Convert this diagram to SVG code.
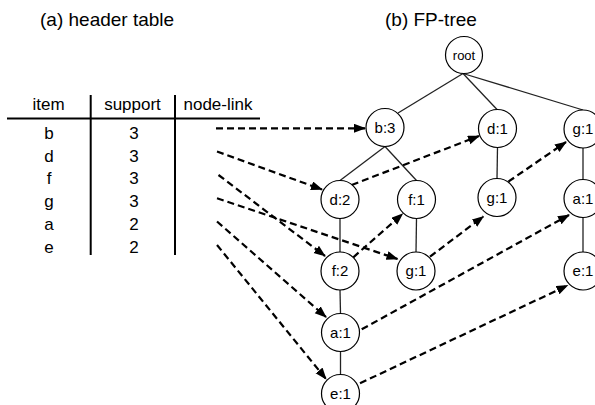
<svg xmlns="http://www.w3.org/2000/svg" width="595" height="405" viewBox="0 0 595 405">
  <defs>
    <marker id="arrow" markerUnits="userSpaceOnUse" markerWidth="13" markerHeight="10" refX="11" refY="4.5" orient="auto">
      <path d="M0,0 L12,4.5 L0,9 z" fill="#000"/>
    </marker>
  </defs>
  <style>
    text { font-family: "Liberation Sans", Arial, sans-serif; fill: #000; }
    .title { font-size: 19px; }
    .th { font-size: 17px; text-anchor: middle; }
    .td { font-size: 17px; text-anchor: middle; }
    .rule { stroke: #000; stroke-width: 2; fill: none; }
    .node circle { fill: #fff; stroke: #000; stroke-width: 1.2; }
    .node text { font-size: 15px; text-anchor: middle; }
    .edge { stroke: #222; stroke-width: 1.3; fill: none; }
    .link { stroke: #000; stroke-width: 2.2; stroke-dasharray: 7 4; fill: none; marker-end: url(#arrow); }
  </style>
  <rect width="595" height="405" fill="#fff"/>

  <!-- titles -->
  <text class="title" x="40" y="26">(a) header table</text>
  <text class="title" x="385" y="26">(b) FP-tree</text>

  <!-- header table -->
  <g id="header-table">
    <text class="th" x="48.5" y="110">item</text>
    <text class="th" x="132.5" y="110">support</text>
    <text class="th" x="218" y="110">node-link</text>
    <line class="rule" x1="7" y1="118.5" x2="260" y2="118.5"/>
    <line class="rule" x1="90.7" y1="95" x2="90.7" y2="255"/>
    <line class="rule" x1="175" y1="95" x2="175" y2="255"/>
    <text class="td" x="49" y="138.5">b</text>
    <text class="td" x="49" y="161.5">d</text>
    <text class="td" x="49" y="184.3">f</text>
    <text class="td" x="49" y="207.2">g</text>
    <text class="td" x="49" y="230.1">a</text>
    <text class="td" x="49" y="253">e</text>
    <text class="td" x="134" y="138.5">3</text>
    <text class="td" x="134" y="161.5">3</text>
    <text class="td" x="134" y="184.3">3</text>
    <text class="td" x="134" y="207.2">3</text>
    <text class="td" x="134" y="230.1">2</text>
    <text class="td" x="134" y="253">2</text>
  </g>

  <!-- tree edges and node-links -->
  <g id="connectors">
    <line class="edge" x1="463" y1="73.5" x2="398" y2="113"/>
    <line class="edge" x1="463" y1="73.5" x2="497.5" y2="110"/>
    <line class="edge" x1="463" y1="73.5" x2="583" y2="110"/>
    <line class="edge" x1="385" y1="146.5" x2="340" y2="180.5"/>
    <line class="edge" x1="385" y1="146.5" x2="416.5" y2="180.5"/>
    <line class="edge" x1="497.5" y1="147.5" x2="497" y2="178.5"/>
    <line class="edge" x1="583" y1="148" x2="583" y2="179.5"/>
    <line class="edge" x1="583" y1="217.5" x2="583" y2="252"/>
    <line class="edge" x1="340" y1="218.5" x2="340" y2="252"/>
    <line class="edge" x1="416.5" y1="218.5" x2="416" y2="252"/>
    <line class="edge" x1="340" y1="290" x2="340.5" y2="313.5"/>
    <line class="edge" x1="340.5" y1="351.5" x2="340.5" y2="374.5"/>

    <line class="link" x1="216" y1="128.3" x2="365" y2="128.3"/>
    <line class="link" x1="217" y1="151.5" x2="322" y2="189.5"/>
    <line class="link" x1="218.5" y1="175" x2="325" y2="256"/>
    <line class="link" x1="217" y1="198.3" x2="397.5" y2="259"/>
    <line class="link" x1="217" y1="221.5" x2="326" y2="317"/>
    <line class="link" x1="217" y1="245" x2="326" y2="379"/>

    <line class="link" x1="351.7" y1="185" x2="479" y2="136"/>
    <line class="link" x1="353.3" y1="257.3" x2="402.5" y2="214"/>
    <line class="link" x1="430" y1="256.7" x2="483.3" y2="216.5"/>
    <line class="link" x1="508.3" y1="181.7" x2="566" y2="142"/>
    <line class="link" x1="361.7" y1="329.3" x2="569" y2="215"/>
    <line class="link" x1="360" y1="383.3" x2="567.5" y2="285.5"/>
  </g>

  <!-- FP-tree nodes -->
  <g id="node-root" class="node"><circle cx="464" cy="55" r="18.5"/><text x="464" y="59.7" style="font-size:13px">root</text></g>
  <g id="node-b3" class="node"><circle cx="385" cy="127.5" r="19"/><text x="385" y="132.8">b:3</text></g>
  <g id="node-d1" class="node"><circle cx="497.5" cy="128.5" r="19"/><text x="497.5" y="133.8">d:1</text></g>
  <g id="node-g1-right" class="node"><circle cx="583" cy="129" r="19"/><text x="583" y="134.3">g:1</text></g>
  <g id="node-d2" class="node"><circle cx="340" cy="199.5" r="19"/><text x="340" y="204.8">d:2</text></g>
  <g id="node-f1" class="node"><circle cx="416.5" cy="199.5" r="19"/><text x="416.5" y="204.8">f:1</text></g>
  <g id="node-g1-mid" class="node"><circle cx="497" cy="197.5" r="19"/><text x="497" y="202.8">g:1</text></g>
  <g id="node-a1-right" class="node"><circle cx="583" cy="198.5" r="19"/><text x="583" y="203.8">a:1</text></g>
  <g id="node-f2" class="node"><circle cx="340" cy="271" r="19"/><text x="340" y="276.3">f:2</text></g>
  <g id="node-g1-low" class="node"><circle cx="416" cy="271" r="19"/><text x="416" y="276.3">g:1</text></g>
  <g id="node-e1-right" class="node"><circle cx="583" cy="271" r="19"/><text x="583" y="276.3">e:1</text></g>
  <g id="node-a1" class="node"><circle cx="340.5" cy="332.5" r="19"/><text x="340.5" y="337.8">a:1</text></g>
  <g id="node-e1" class="node"><circle cx="340.5" cy="393.5" r="19"/><text x="340.5" y="398.8">e:1</text></g>
</svg>
